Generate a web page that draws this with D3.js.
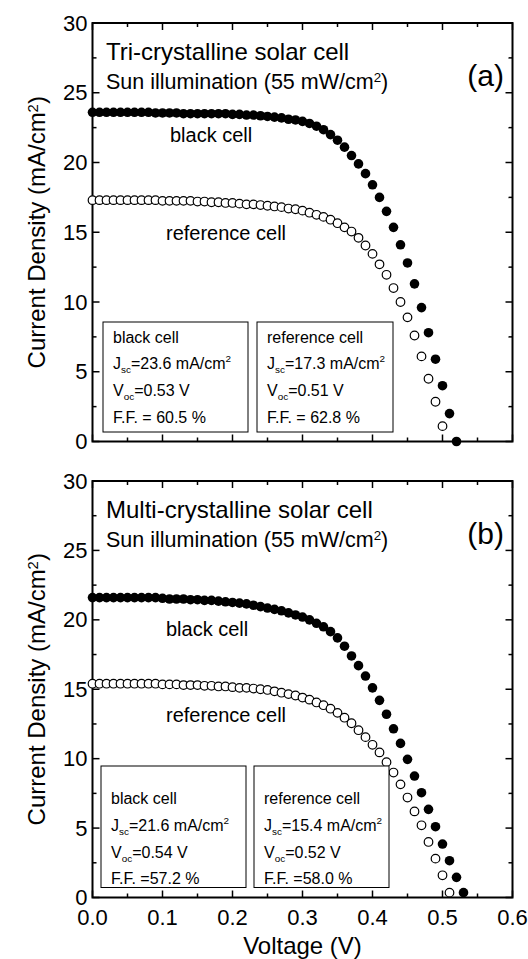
<!DOCTYPE html>
<html>
<head>
<meta charset="utf-8">
<script src="https://cdn.jsdelivr.net/npm/d3@7"></script>
<style>
html,body{margin:0;padding:0;background:#fff;}
svg{display:block;}
text{font-family:"Liberation Sans",Arial,Helvetica,sans-serif;fill:#000;}
</style>
</head>
<body>
<svg id="chart" width="528" height="959"></svg>
<script>
// ---------------- DATA ----------------
const voltage = [0.00,0.01,0.02,0.03,0.04,0.05,0.06,0.07,0.08,0.09,
  0.10,0.11,0.12,0.13,0.14,0.15,0.16,0.17,0.18,0.19,
  0.20,0.21,0.22,0.23,0.24,0.25,0.26,0.27,0.28,0.29,
  0.30,0.31,0.32,0.33,0.34,0.35,0.36,0.37,0.38,0.39,
  0.40,0.41,0.42,0.43,0.44,0.45,0.46,0.47,0.48,0.49,
  0.50,0.51,0.52,0.53];

// Panel (a) tri-crystalline
const triBlack = [23.6,23.6,23.6,23.6,23.6,23.6,23.6,23.6,23.6,23.55,
  23.55,23.55,23.55,23.5,23.5,23.5,23.5,23.5,23.5,23.5,
  23.45,23.45,23.4,23.4,23.35,23.3,23.25,23.2,23.1,23.05,
  22.95,22.8,22.6,22.35,22.0,21.6,21.1,20.5,19.9,19.2,
  18.4,17.5,16.5,15.35,14.1,12.8,11.3,9.6,7.8,5.9,
  4.0,2.0,0.0];
const triRef = [17.3,17.3,17.3,17.3,17.3,17.3,17.3,17.3,17.3,17.3,
  17.25,17.25,17.25,17.25,17.25,17.2,17.2,17.15,17.15,17.1,
  17.1,17.05,17.0,17.0,16.95,16.9,16.85,16.8,16.7,16.65,
  16.55,16.4,16.25,16.1,15.9,15.65,15.35,15.05,14.6,14.05,
  13.45,12.7,11.95,11.0,10.0,8.9,7.6,6.1,4.5,2.85,
  1.1];

// Panel (b) multi-crystalline
const multiBlack = [21.6,21.6,21.6,21.6,21.6,21.6,21.6,21.6,21.6,21.6,
  21.55,21.5,21.5,21.5,21.45,21.45,21.4,21.4,21.35,21.3,
  21.25,21.2,21.15,21.05,20.95,20.85,20.75,20.65,20.5,20.35,
  20.2,20.0,19.75,19.5,19.15,18.7,18.1,17.4,16.7,15.95,
  15.1,14.2,13.2,12.15,11.1,9.95,8.75,7.55,6.35,5.1,
  3.85,2.65,1.45,0.35];
const multiRef = [15.4,15.4,15.4,15.4,15.4,15.4,15.4,15.4,15.4,15.4,
  15.35,15.35,15.35,15.3,15.3,15.3,15.25,15.25,15.2,15.2,
  15.15,15.1,15.1,15.05,15.0,14.95,14.85,14.75,14.65,14.55,
  14.4,14.25,14.05,13.85,13.6,13.3,12.95,12.55,12.05,11.55,
  11.0,10.45,9.75,9.0,8.15,7.2,6.2,5.2,4.0,2.8,
  1.6,0.35];

const xTicks = [0.0,0.1,0.2,0.3,0.4,0.5,0.6];
const xTickLabels = ["0.0","0.1","0.2","0.3","0.4","0.5","0.6"];
const yTicks = [0,5,10,15,20,25,30];
const yTickLabels = ["0","5","10","15","20","25","30"];

const panelTitles = ["Tri-crystalline solar cell","Multi-crystalline solar cell"];
const panelTags = ["(a)","(b)"];
const illumination = "Sun illumination (55 mW/cm";
const blackJsc = ["23.6","21.6"];
const blackVoc = ["0.53","0.54"];
const blackFF = ["F.F. = 60.5 %","F.F. =57.2 %"];
const refJsc = ["17.3","15.4"];
const refVoc = ["0.51","0.52"];
const refFF = ["F.F. = 62.8 %","F.F. =58.0 %"];

// ---------------- LAYOUT ----------------
const svg = d3.select("#chart");
const left = 92.5, right = 512.5;
const panels = [
  {top:23, bottom:441.5, black:triBlack, ref:triRef, boxTop:322, boxBottom:432,
   box1:[103,248], box2:[257,393], lines:[343,369,396,423],
   blackLbl:[170,142], refLbl:[166,240]},
  {top:481, bottom:897.5, black:multiBlack, ref:multiRef, boxTop:766, boxBottom:887.5,
   box1:[101,246], box2:[254,389], lines:[804,831,858,884],
   blackLbl:[166,636], refLbl:[166,722]}
];

const x = d3.scaleLinear().domain([0,0.6]).range([left,right]);

function supText(sel, parts){
  let shift = 0;
  parts.forEach(([t,mode])=>{
    const ts = sel.append("tspan").text(t);
    let target = 0;
    if(mode==="sub"){ts.attr("font-size","0.62em"); target = 4;}
    if(mode==="sup"){ts.attr("font-size","0.62em"); target = -7;}
    ts.attr("dy", target - shift);
    shift = target;
  });
}

panels.forEach((p,i)=>{
  const y = d3.scaleLinear().domain([0,30]).range([p.bottom,p.top]);
  const g = svg.append("g");

  const minorX = [0.05,0.15,0.25,0.35,0.45,0.55];
  const minorY = [2.5,7.5,12.5,17.5,22.5,27.5];
  const tg = g.append("g").attr("stroke","#000").attr("stroke-width",1.5);
  xTicks.forEach(v=>{
    tg.append("line").attr("x1",x(v)).attr("x2",x(v)).attr("y1",p.bottom).attr("y2",p.bottom-7);
    tg.append("line").attr("x1",x(v)).attr("x2",x(v)).attr("y1",p.top).attr("y2",p.top+7);
  });
  minorX.forEach(v=>{
    tg.append("line").attr("x1",x(v)).attr("x2",x(v)).attr("y1",p.bottom).attr("y2",p.bottom-4);
    tg.append("line").attr("x1",x(v)).attr("x2",x(v)).attr("y1",p.top).attr("y2",p.top+4);
  });
  yTicks.forEach(v=>{
    tg.append("line").attr("x1",left).attr("x2",left+7).attr("y1",y(v)).attr("y2",y(v));
    tg.append("line").attr("x1",right).attr("x2",right-7).attr("y1",y(v)).attr("y2",y(v));
  });
  minorY.forEach(v=>{
    tg.append("line").attr("x1",left).attr("x2",left+4).attr("y1",y(v)).attr("y2",y(v));
    tg.append("line").attr("x1",right).attr("x2",right-4).attr("y1",y(v)).attr("y2",y(v));
  });

  g.append("rect").attr("x",left).attr("y",p.top).attr("width",right-left).attr("height",p.bottom-p.top)
    .attr("fill","none").attr("stroke","#000").attr("stroke-width",2);

  yTicks.forEach((v,k)=>{
    g.append("text").attr("x",left-5).attr("y",y(v)+7.5).attr("text-anchor","end")
      .attr("font-size",22).text(yTickLabels[k]);
  });

  const yl = g.append("text").attr("transform",`translate(45,${(p.top+p.bottom)/2}) rotate(-90)`)
    .attr("text-anchor","middle").attr("font-size",24);
  supText(yl,[["Current Density (mA/cm","n"],["2","sup"],[")","n"]]);

  const blackPts = p.black.map((j,k)=>({v:voltage[k], j}));
  const refPts = p.ref.map((j,k)=>({v:voltage[k], j}));
  g.append("g").selectAll("circle").data(refPts).join("circle")
    .attr("cx",d=>x(d.v)).attr("cy",d=>y(d.j)).attr("r",4.3)
    .attr("fill","#fff").attr("stroke","#000").attr("stroke-width",1.2);
  g.append("g").selectAll("circle").data(blackPts).join("circle")
    .attr("cx",d=>x(d.v)).attr("cy",d=>y(d.j)).attr("r",4.8)
    .attr("fill","#000");

  g.append("text").attr("x",106).attr("y",p.top+37).attr("font-size",24).text(panelTitles[i]);
  const sub = g.append("text").attr("x",106).attr("y",p.top+66).attr("font-size",21.5);
  supText(sub,[[illumination,"n"],["2","sup"],[")","n"]]);
  g.append("text").attr("x",504).attr("y",p.top+63).attr("text-anchor","end").attr("font-size",30).text(panelTags[i]);

  g.append("text").attr("x",p.blackLbl[0]).attr("y",p.blackLbl[1]).attr("font-size",20).text("black cell");
  g.append("text").attr("x",p.refLbl[0]).attr("y",p.refLbl[1]).attr("font-size",20).text("reference cell");

  [[p.box1,"black cell",blackJsc[i],blackVoc[i],blackFF[i]],[p.box2,"reference cell",refJsc[i],refVoc[i],refFF[i]]]
  .forEach(([bx,name,jsc,voc,ff])=>{
    g.append("rect").attr("x",bx[0]).attr("y",p.boxTop).attr("width",bx[1]-bx[0]).attr("height",p.boxBottom-p.boxTop)
      .attr("fill","#fff").attr("stroke","#000").attr("stroke-width",1);
    const tx = bx[0]+10;
    g.append("text").attr("x",tx).attr("y",p.lines[0]).attr("font-size",16).text(name);
    const t1 = g.append("text").attr("x",tx).attr("y",p.lines[1]).attr("font-size",16);
    supText(t1,[["J","n"],["sc","sub"],["="+jsc+" mA/cm","n"],["2","sup"]]);
    const t2 = g.append("text").attr("x",tx).attr("y",p.lines[2]).attr("font-size",16);
    supText(t2,[["V","n"],["oc","sub"],["="+voc+" V","n"]]);
    g.append("text").attr("x",tx).attr("y",p.lines[3]).attr("font-size",16).text(ff);
  });

  if(i===1){
    xTicks.forEach((v,k)=>{
      g.append("text").attr("x",x(v)).attr("y",p.bottom+27).attr("text-anchor","middle")
        .attr("font-size",22).text(xTickLabels[k]);
    });
    g.append("text").attr("x",x(0.3)).attr("y",p.bottom+56).attr("text-anchor","middle")
      .attr("font-size",24).text("Voltage (V)");
  }
});
</script>
</body>
</html>
